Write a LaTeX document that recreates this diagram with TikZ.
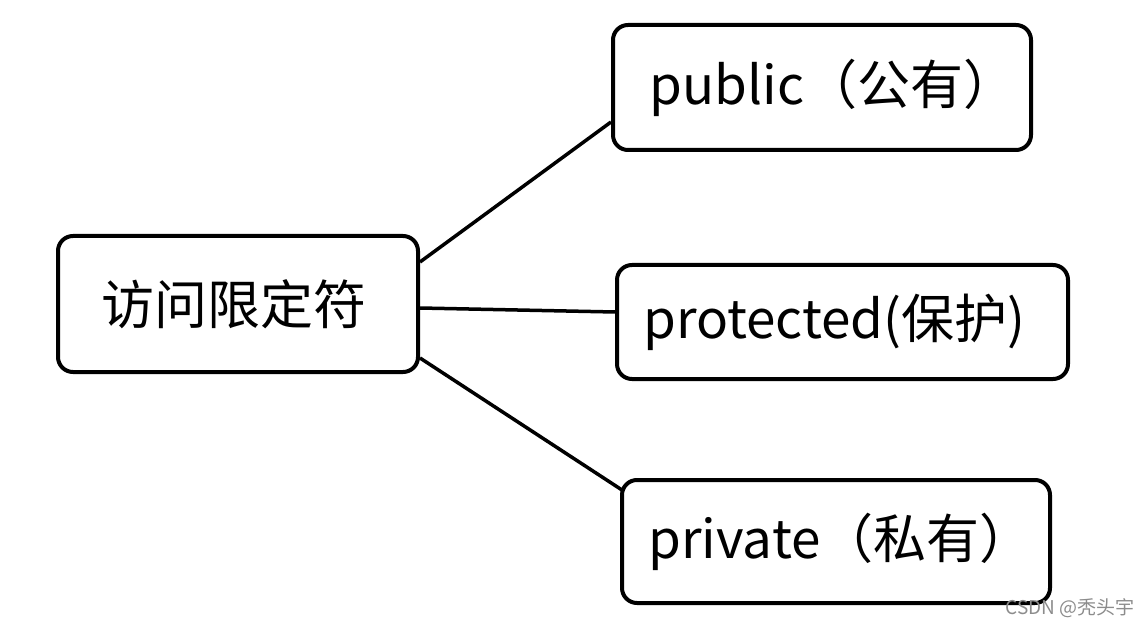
\documentclass[tikz,border=0pt]{standalone}
\usepackage{fontspec}
\setmainfont{Noto Sans CJK SC}
\usetikzlibrary{positioning}

\tikzset{
    box/.style={draw, line width=4pt, rounded corners=15pt, font=\fontsize{53}{56}\selectfont, inner sep=0pt},
    link/.style={line width=3.5pt},
}

\begin{document}
\begin{tikzpicture}[x=1pt, y=-1pt]
    % Frame
    \useasboundingbox (0,0) rectangle (1148,628);

    % Boxes
    \node [box, minimum width=360pt, minimum height=136pt] (acc) at (238,304) {\hspace{-8pt}访问限定符};
    \node [box, minimum width=418pt, minimum height=125pt] (pub) at (822,87.5) {\hspace{22pt}public（公有）};
    \node [box, minimum width=451pt, minimum height=114pt] (pro) at (842.5,322) {\hspace{-16pt}protected(保护)};
    \node [box, minimum width=428pt, minimum height=123pt] (pri) at (836,541.5) {\hspace{9pt}private（私有）};

    % Links
    \draw [link] ([yshift=42pt]acc.east) -- ([yshift=-34.5pt]pub.west);
    \draw [link] ([yshift=-4pt]acc.east) -- ([yshift=10pt]pro.west);
    \draw [link] ([yshift=-54pt]acc.east) -- ([xshift=2pt,yshift=51.5pt]pri.west);

    % Watermark
    \node [text=black!45, font=\fontsize{19}{20}\selectfont, anchor=east] (mark) at (1138,608) {CSDN @秃头宇};
\end{tikzpicture}
\end{document}
